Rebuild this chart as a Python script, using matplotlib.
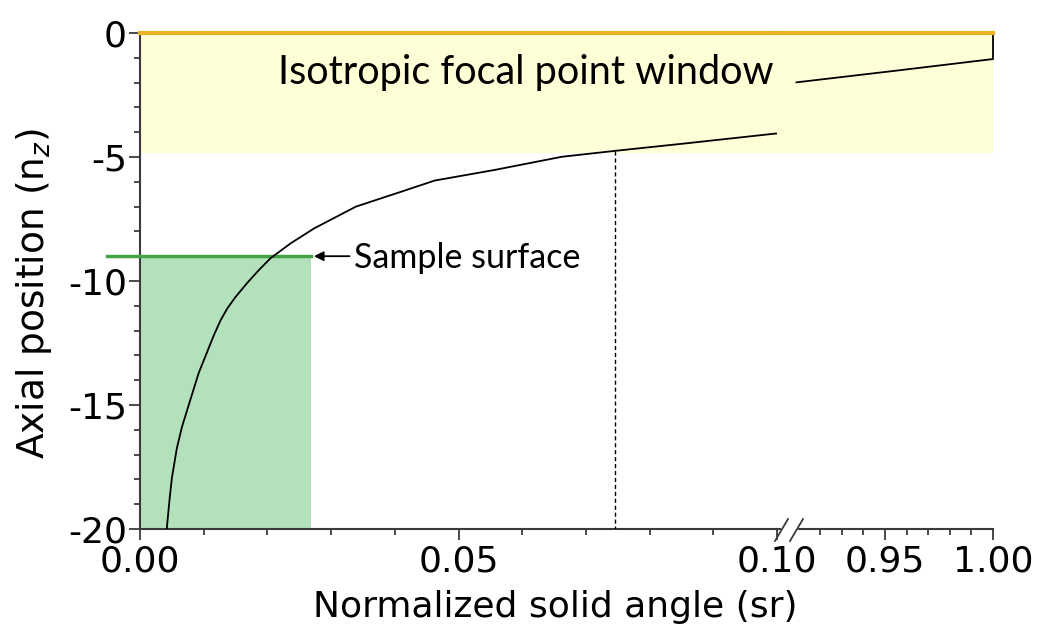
"""Axial position vs normalized solid angle, broken x axis (0-0.10 | 0.90-1.00)."""
import numpy as np
import matplotlib
matplotlib.use("Agg")
import matplotlib.pyplot as plt
from matplotlib.lines import Line2D
from matplotlib.ticker import MultipleLocator, FixedLocator

# curve, near segment of the axis (0 - 0.10 sr)
angle_near = [0.00421, 0.00463, 0.0050, 0.00578, 0.00657, 0.00789, 0.0092,
              0.01157, 0.01262, 0.01367, 0.01498, 0.01682, 0.01866, 0.0205,
              0.02366, 0.02733, 0.0339, 0.0410, 0.04626, 0.0557, 0.06625,
              0.07466, 0.0857, 0.1003]
axial_near = [-19.97, -18.83, -17.95, -16.75, -15.9, -14.8, -13.72,
              -12.2, -11.6, -11.12, -10.65, -10.08, -9.56, -9.08,
              -8.48, -7.88, -7.0, -6.40, -5.95, -5.52, -4.99,
              -4.75, -4.45, -4.04]
# curve, far segment (0.90 - 1.00 sr), closes up to z = 0 at 1.00
angle_far = [0.909, 0.955, 1.000, 1.000]
axial_far = [-1.99, -1.52, -1.05, 0.0]

window_bottom = -4.82      # isotropic focal point window: 0 .. -4.82
surface_z = -9.0
surface_angle = 0.0268
marker_angle = 0.0746
marker_z = -4.75

near_ticks = [0.0, 0.05, 0.10]
near_labels = ["0.00", "0.05", "0.10"]
far_ticks = [0.95, 1.00]
far_labels = ["0.95", "1.00"]
far_minor = [0.92, 0.93, 0.94, 0.96, 0.97, 0.98, 0.99]
y_ticks = [0, -5, -10, -15, -20]

YELLOW = "#feffd6"
ORANGE = "#e8b324"
GREEN_FILL = "#b3e1bc"
GREEN_LINE = "#44a344"
SPINE = "#3a3a3a"

W, H = 1038, 641
x0, xb, x1 = 140, 777, 993
ytop, ybot = 33, 529

fig = plt.figure(figsize=(W / 100, H / 100), dpi=100)
ax1 = fig.add_axes([x0 / W, 1 - ybot / H, (xb - x0) / W, (ybot - ytop) / H])
ax2 = fig.add_axes([xb / W, 1 - ybot / H, (x1 - xb) / W, (ybot - ytop) / H])

for ax in (ax1, ax2):
    ax.set_ylim(-20, 0)
    ax.axhspan(window_bottom, 0, color=YELLOW, lw=0, zorder=0)
    ax.axhline(0, color=ORANGE, lw=3, clip_on=False, zorder=5)
    ax.spines["top"].set_visible(False)
    ax.spines["right"].set_visible(False)
    for s in ("left", "bottom"):
        ax.spines[s].set_linewidth(1.5)
        ax.spines[s].set_color(SPINE)
    ax.tick_params(which="both", direction="out", color=SPINE, width=1.3,
                   labelsize=26)
    ax.tick_params(which="major", length=8)
    ax.tick_params(which="minor", length=4.5)
    ax.tick_params(axis="x", pad=3)
    ax.tick_params(axis="y", pad=1.5)
    ax.set_facecolor("none")

ax2.spines["left"].set_visible(False)
ax2.tick_params(axis="y", which="both", left=False, labelleft=False)

ax1.set_xlim(0, 0.10)
ax1.set_xticks(near_ticks)
ax1.set_xticklabels(near_labels)
ax1.xaxis.set_minor_locator(MultipleLocator(0.01))
ax1.set_yticks(y_ticks)
ax1.set_yticklabels([str(v) for v in y_ticks])
ax1.yaxis.set_minor_locator(MultipleLocator(1))

ax2.set_xlim(0.90, 1.00)
ax2.set_xticks(far_ticks)
ax2.set_xticklabels(far_labels)
ax2.xaxis.set_minor_locator(FixedLocator(far_minor))

# sample region below the surface
ax1.fill_between([0, surface_angle], -20, surface_z, color=GREEN_FILL, lw=0, zorder=1)
ax1.plot([-0.0052, surface_angle], [surface_z, surface_z], color=GREEN_LINE, lw=2.5,
         clip_on=False, zorder=3)
ax1.annotate("", xy=(0.0273, surface_z), xytext=(0.0329, surface_z),
             arrowprops=dict(arrowstyle="-|>", color="k", lw=1.3, mutation_scale=14,
                             shrinkA=0, shrinkB=0))
ax1.text(0.0336, -9.48, "Sample surface", ha="left", va="baseline",
         fontsize=24.5, family="Lato")

ax1.text(0.0216, -2.06, "Isotropic focal point window", ha="left", va="baseline",
         fontsize=28.5, family="Lato")

ax1.plot([marker_angle, marker_angle], [marker_z, -20], color="k", lw=1,
         dashes=(3, 2), zorder=3)

ax1.plot(angle_near, axial_near, color="k", lw=1.3, zorder=4, clip_on=False)
ax2.plot(angle_far, axial_far, color="k", lw=1.3, zorder=4, clip_on=False)

# axis break marks
def px(x, y):
    return x / W, 1 - y / H

fig.add_artist(Line2D(*zip(px(783, ybot), px(796, ybot)), color="white", lw=3))
for sx in (781, 796):
    fig.add_artist(Line2D(*zip(px(sx - 6, ybot + 12), px(sx + 7, ybot - 10)),
                          color=SPINE, lw=1.3))

fig.text(34 / W, 1 - 293 / H, "Axial position (n$_z$)", rotation=90,
         ha="center", va="center", fontsize=27)
fig.text(555 / W, 1 - 607 / H, "Normalized solid angle (sr)",
         ha="center", va="center", fontsize=26)

fig.savefig("out.png", dpi=100)
